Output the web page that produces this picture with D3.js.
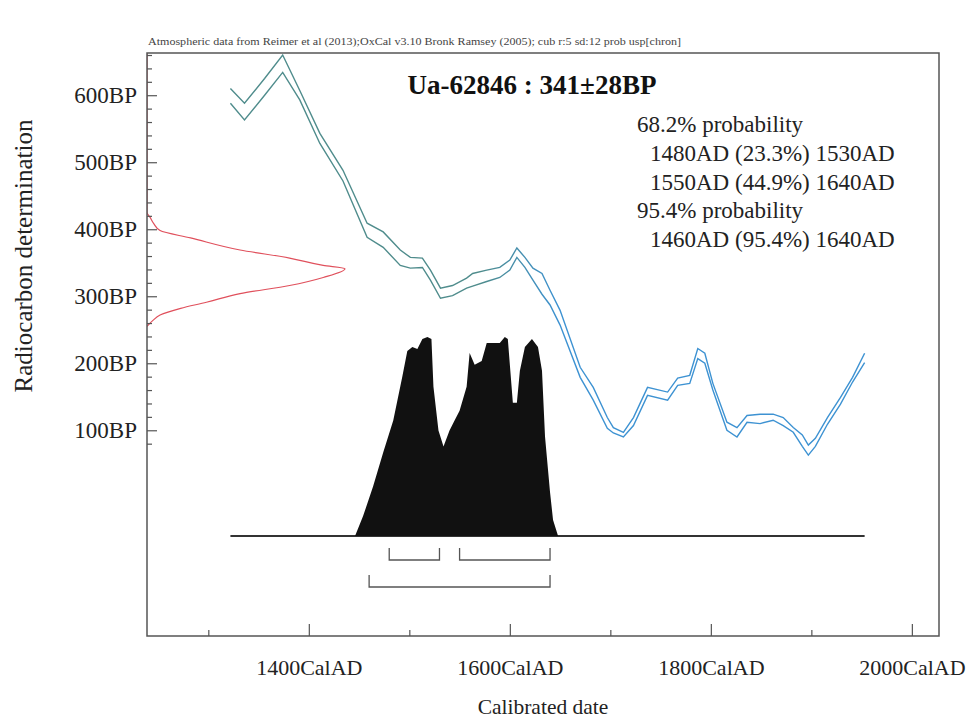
<!DOCTYPE html>
<html>
<head>
<meta charset="utf-8">
<script src="https://cdn.jsdelivr.net/npm/d3@7"></script>
<style>
  body { margin: 0; background: #fff; }
  svg { display: block; font-family: "Liberation Serif", "Times New Roman", serif; }
</style>
</head>
<body>
<div id="chart"></div>
<script>
// calibration curve (IntCal13 band)
const curveYears = [1322, 1336, 1356, 1374, 1391, 1411, 1434, 1458, 1474, 1491, 1501, 1513, 1521, 1531, 1543, 1557, 1563, 1577, 1590, 1600, 1607, 1615, 1623, 1632, 1640, 1650, 1670, 1683, 1697, 1703, 1713, 1723, 1737, 1757, 1767, 1779, 1787, 1794, 1802, 1816, 1826, 1836, 1849, 1862, 1872, 1882, 1891, 1897, 1904, 1916, 1929, 1941, 1953];
const curveUpper = [610, 588, 625, 660, 607, 543, 488, 409, 396, 369, 358, 357, 339, 312, 316, 327, 334, 339, 343, 354, 372, 358, 342, 334, 309, 279, 194, 164, 119, 104, 97, 119, 164, 157, 178, 182, 222, 215, 170, 112, 104, 122, 124, 124, 119, 104, 93, 78, 88, 119, 149, 179, 215];
const curveLower = [588, 563, 600, 634, 593, 528, 472, 388, 373, 346, 342, 343, 324, 297, 301, 312, 315, 322, 328, 339, 358, 343, 324, 303, 287, 257, 179, 145, 103, 96, 90, 107, 152, 145, 167, 170, 207, 200, 160, 100, 90, 112, 110, 115, 107, 97, 76, 63, 76, 109, 139, 172, 201];

// radiocarbon determination 341±28BP (relative probability)
const dateBP = [663, 425, 418, 408, 398, 387, 369, 357, 346, 341, 328, 316, 304, 291, 282, 272, 264, 255];
const dateProb = [0, 0, 0.015, 0.035, 0.066, 0.22, 0.47, 0.72, 0.89, 1.0, 0.89, 0.72, 0.47, 0.3, 0.17, 0.066, 0.03, 0];

// calibrated distribution
const postYears = [1446, 1454, 1464, 1474, 1484, 1493, 1498, 1503, 1508, 1513, 1518, 1522, 1524, 1529, 1534, 1540, 1545, 1550, 1557, 1560, 1565, 1572, 1577, 1583, 1590, 1595, 1598, 1603, 1607, 1610, 1615, 1622, 1628, 1632, 1635, 1640, 1643, 1648];
const postProb = [0, 0.1, 0.25, 0.42, 0.58, 0.8, 0.93, 0.95, 0.94, 0.99, 1.0, 0.99, 0.75, 0.53, 0.45, 0.53, 0.58, 0.63, 0.75, 0.92, 0.86, 0.88, 0.97, 0.97, 0.97, 1.0, 0.99, 0.67, 0.67, 0.83, 0.95, 0.99, 0.95, 0.83, 0.5, 0.22, 0.08, 0];

// ranges
const ranges68 = [[1480, 1530], [1550, 1640]];
const ranges95 = [[1460, 1640]];

const yMajor = [100, 200, 300, 400, 500, 600];
const yMinor = [80, 120, 140, 160, 180, 220, 240, 260, 280, 320, 340, 360, 380, 420, 440, 460, 480, 520, 540, 560, 580, 620, 640, 660];
const xMajor = [1400, 1600, 1800, 2000];
const xMinor = [1300, 1500, 1700, 1900];

const headerText = "Atmospheric data from Reimer et al (2013);OxCal v3.10 Bronk Ramsey (2005); cub r:5 sd:12 prob usp[chron]";
const titleText = "Ua-62846 : 341\u00b128BP";
const probLines = [
  { text: "68.2% probability", indent: false },
  { text: "1480AD (23.3%) 1530AD", indent: true },
  { text: "1550AD (44.9%) 1640AD", indent: true },
  { text: "95.4% probability", indent: false },
  { text: "1460AD (95.4%) 1640AD", indent: true },
];

const width = 970, height = 720;
const plot = { left: 147, top: 53, right: 939, bottom: 636 };

const svg = d3
  .select("#chart")
  .append("svg")
  .attr("width", width)
  .attr("height", height);

svg.append("rect").attr("width", width).attr("height", height).attr("fill", "#fff");

const x = d3.scaleLinear().domain([1239, 2027]).range([plot.left, plot.right]);
const y = d3.scaleLinear().domain([-207, 663]).range([plot.bottom, plot.top]);
// scales for the two probability plots
const yPost = d3.scaleLinear().domain([0, 1]).range([536, 337]);
const xDate = d3.scaleLinear().domain([0, 1]).range([plot.left, 345]);

svg
  .append("clipPath")
  .attr("id", "clip")
  .append("rect")
  .attr("x", plot.left)
  .attr("y", plot.top)
  .attr("width", plot.right - plot.left)
  .attr("height", plot.bottom - plot.top);

const inner = svg.append("g").attr("clip-path", "url(#clip)");

// header
svg
  .append("text")
  .attr("x", 148)
  .attr("y", 45)
  .attr("font-size", 9.5)
  .attr("fill", "#444")
  .attr("textLength", 533)
  .attr("lengthAdjust", "spacingAndGlyphs")
  .text(headerText);

// calibration curve
const grad = svg
  .append("defs")
  .append("linearGradient")
  .attr("id", "curveGrad")
  .attr("gradientUnits", "userSpaceOnUse")
  .attr("x1", 480)
  .attr("x2", 560)
  .attr("y1", 0)
  .attr("y2", 0);
grad.append("stop").attr("offset", 0).attr("stop-color", "#4f8c8c");
grad.append("stop").attr("offset", 1).attr("stop-color", "#3d92d2");

const curveLine = (vals) =>
  d3
    .line()
    .x((d, i) => x(curveYears[i]))
    .y((d) => y(d))(vals);

[curveUpper, curveLower].forEach((vals) => {
  inner
    .append("path")
    .attr("d", curveLine(vals))
    .attr("fill", "none")
    .attr("stroke", "url(#curveGrad)")
    .attr("stroke-width", 1.4);
});

// radiocarbon determination (red)
inner
  .append("path")
  .attr(
    "d",
    d3
      .line()
      .x((d) => xDate(d))
      .y((d, i) => y(dateBP[i]))
      .curve(d3.curveMonotoneY)(dateProb)
  )
  .attr("fill", "none")
  .attr("stroke", "#e0505c")
  .attr("stroke-width", 1.2);

// calibrated distribution baseline
svg
  .append("line")
  .attr("x1", x(curveYears[0]))
  .attr("x2", x(curveYears[curveYears.length - 1]))
  .attr("y1", yPost(0))
  .attr("y2", yPost(0))
  .attr("stroke", "#333")
  .attr("stroke-width", 2);

svg
  .append("path")
  .attr(
    "d",
    d3
      .area()
      .x((d, i) => x(postYears[i]))
      .y0(yPost(0))
      .y1((d) => yPost(d))(postProb)
  )
  .attr("fill", "#111");

// range brackets
const bracket = (ranges, yy) => {
  svg
    .append("g")
    .selectAll("path")
    .data(ranges)
    .join("path")
    .attr("d", (r) => `M${x(r[0])},${yy - 12}V${yy}H${x(r[1])}V${yy - 12}`)
    .attr("fill", "none")
    .attr("stroke", "#555")
    .attr("stroke-width", 1.3);
};
bracket(ranges68, 560);
bracket(ranges95, 587);

// frame
svg
  .append("path")
  .attr("d", `M${plot.left},${plot.top}H${plot.right}V${plot.bottom}H${plot.left}Z`)
  .attr("fill", "none")
  .attr("stroke", "#555")
  .attr("stroke-width", 1.5);

// axes
const yAxis = svg
  .append("g")
  .attr("transform", `translate(${plot.left},0)`)
  .call(d3.axisLeft(y).tickValues(yMajor).tickSize(-10).tickPadding(10).tickFormat((d) => d + "BP"));
svg
  .append("g")
  .attr("transform", `translate(${plot.left},0)`)
  .call(d3.axisLeft(y).tickValues(yMinor).tickSize(-5).tickFormat(""));

const xAxis = svg
  .append("g")
  .attr("transform", `translate(0,${plot.bottom})`)
  .call(d3.axisBottom(x).tickValues(xMajor).tickSize(-12).tickPadding(23).tickFormat((d) => d + "CalAD"));
svg
  .append("g")
  .attr("transform", `translate(0,${plot.bottom})`)
  .call(d3.axisBottom(x).tickValues(xMinor).tickSize(-6).tickFormat(""));

svg.selectAll(".domain").remove();
svg.selectAll(".tick line").attr("stroke", "#555").attr("stroke-width", 1.2);
yAxis.selectAll("text").attr("font-size", 23).attr("fill", "#222").attr("font-family", "Liberation Serif");
xAxis.selectAll("text").attr("font-size", 22).attr("fill", "#222").attr("font-family", "Liberation Serif");

// axis titles
svg
  .append("text")
  .attr("transform", "translate(32,256) rotate(-90)")
  .attr("text-anchor", "middle")
  .attr("font-size", 25)
  .attr("fill", "#222")
  .text("Radiocarbon determination");

svg
  .append("text")
  .attr("x", 543)
  .attr("y", 714)
  .attr("text-anchor", "middle")
  .attr("font-size", 21.5)
  .attr("fill", "#222")
  .text("Calibrated date");

// title and ranges
svg
  .append("text")
  .attr("x", 532)
  .attr("y", 94)
  .attr("text-anchor", "middle")
  .attr("font-size", 27)
  .attr("font-weight", "bold")
  .attr("fill", "#111")
  .text(titleText);

svg
  .append("g")
  .selectAll("text")
  .data(probLines)
  .join("text")
  .attr("x", (d) => (d.indent ? 650 : 637))
  .attr("y", (d, i) => 132 + i * 28.8)
  .attr("font-size", 23)
  .attr("fill", "#222")
  .text((d) => d.text);
</script>
</body>
</html>
